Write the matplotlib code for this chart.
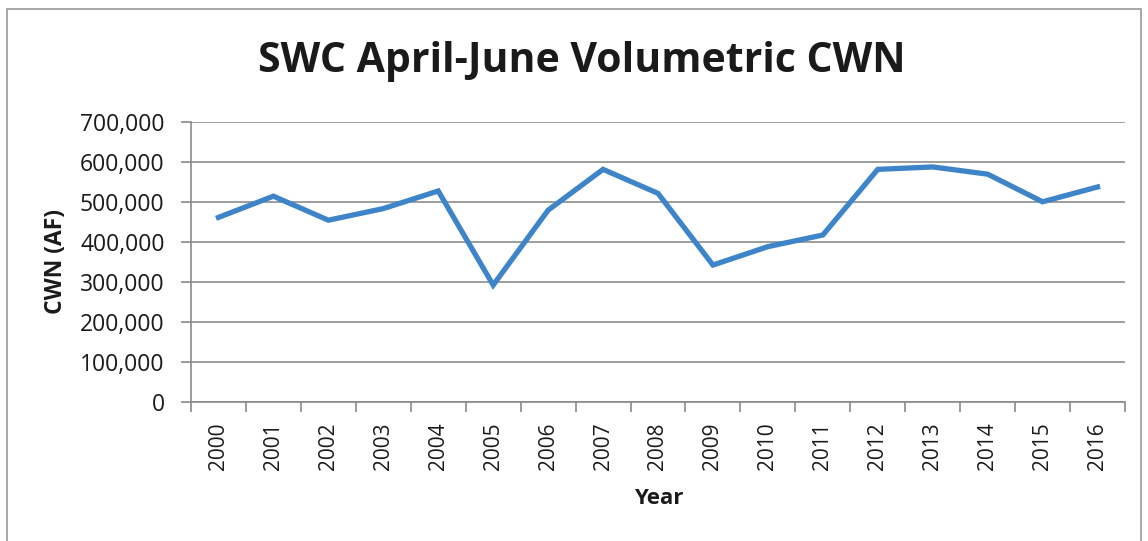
import matplotlib.pyplot as plt
from matplotlib.patches import Rectangle
from matplotlib.ticker import FuncFormatter, FixedLocator

# Data
years = ['2000', '2001', '2002', '2003', '2004', '2005', '2006', '2007', '2008',
         '2009', '2010', '2011', '2012', '2013', '2014', '2015', '2016']
cwn_af = [461000, 514000, 454000, 483000, 527000, 292000, 479000, 581000, 521000,
          342000, 388000, 417000, 581000, 587000, 569000, 500000, 537000]
y_ticks = [0, 100000, 200000, 300000, 400000, 500000, 600000, 700000]

plt.rcParams['font.family'] = ['Open Sans', 'DejaVu Sans']

W, H = 1148, 541
fig = plt.figure(figsize=(W / 100, H / 100), dpi=100)
fig.patch.set_facecolor('white')

# chart border (bottom runs off the image)
fig.patches.append(Rectangle((7 / W, -0.1), (1141 - 7) / W, 1.1 - 9 / H,
                             transform=fig.transFigure, fill=False,
                             edgecolor='#9a9a9a', linewidth=1.2))

# plot area
left, right, top, bottom = 191, 1125, 121.7, 402
ax = fig.add_axes([left / W, 1 - bottom / H, (right - left) / W, (bottom - top) / H])

x = list(range(len(years)))
ax.plot(x, cwn_af, color='#3d85c8', linewidth=3.8, solid_joinstyle='miter')

ax.set_xlim(-0.5, len(years) - 0.5)
ax.set_ylim(0, 700000)
ax.set_yticks(y_ticks)
ax.yaxis.set_major_formatter(FuncFormatter(lambda v, p: f'{int(v):,}'))

ax.set_xticks(x)
ax.set_xticklabels(years, rotation=90)
ax.xaxis.set_minor_locator(FixedLocator([i - 0.5 for i in range(len(years) + 1)]))
ax.tick_params(axis='x', which='major', length=0, pad=14.5, labelsize=15, labelcolor='#1a1a1a')
ax.tick_params(axis='x', which='minor', length=7, width=1.2, color='#8a8a8a')
ax.tick_params(axis='y', length=7, width=1.2, color='#8a8a8a', pad=12,
               labelsize=16.5, labelcolor='#1a1a1a')

ax.grid(axis='y', color='#8c8c8c', linewidth=1.2)
ax.set_axisbelow(True)
for s in ['top', 'right']:
    ax.spines[s].set_visible(False)
for s in ['left', 'bottom']:
    ax.spines[s].set_color('#8a8a8a')
    ax.spines[s].set_linewidth(1.2)

fig.text(582 / W, 1 - 62 / H, 'SWC April-June Volumetric CWN', ha='center', va='center',
         fontsize=29.5, fontweight='bold', color='#1a1a1a')
fig.text(56 / W, 1 - 262 / H, 'CWN (AF)', ha='center', va='center', rotation=90,
         fontsize=16.5, fontweight='bold', color='#1a1a1a')
fig.text(659 / W, 1 - 498 / H, 'Year', ha='center', va='center',
         fontsize=16, fontweight='bold', color='#1a1a1a')

fig.savefig('out.png', dpi=100)
